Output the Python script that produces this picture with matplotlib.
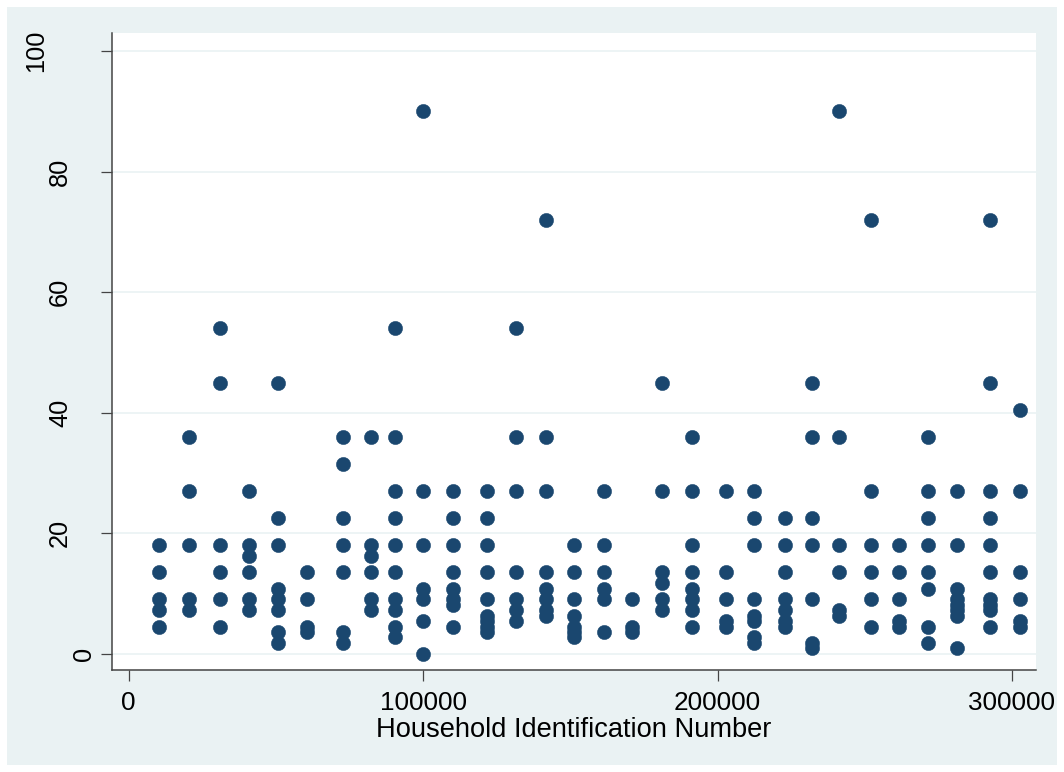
import matplotlib
matplotlib.use("Agg")
import matplotlib.pyplot as plt
from matplotlib.patches import Rectangle
import matplotlib.transforms as mtransforms

# household ids (x) and the values plotted for each one (y)
household_ids = [10300, 20500, 31000, 41000, 50800, 60500, 72900, 82300, 90400, 100100,
                 110200, 121600, 131600, 141600, 151300, 161400, 171100, 181300, 191500, 202800,
                 212500, 222800, 232000, 241300, 252100, 261500, 271600, 281400, 292500, 302700]

values_by_id = [
    [18, 13.5, 9, 7.2, 4.5],
    [36, 27, 18, 9, 7.2],
    [54, 45, 18, 13.5, 9, 4.5],
    [27, 18, 16.2, 13.5, 9, 7.2],
    [45, 22.5, 18, 10.8, 9, 7.2, 3.6, 1.8],
    [13.5, 9, 4.5, 3.6],
    [36, 31.5, 22.5, 18, 13.5, 3.6, 1.8],
    [36, 18, 16.2, 13.5, 9, 7.2],
    [54, 36, 27, 22.5, 18, 13.5, 9, 7.2, 4.5, 2.7],
    [90, 27, 18, 10.8, 9, 5.4, 0],
    [27, 22.5, 18, 13.5, 10.8, 9, 8.1, 4.5],
    [27, 22.5, 18, 13.5, 9, 6.3, 5.4, 4.5, 3.6],
    [54, 36, 27, 13.5, 9, 7.2, 5.4],
    [72, 36, 27, 13.5, 10.8, 9, 7.2, 6.3],
    [18, 13.5, 9, 6.3, 4.5, 3.6, 2.7],
    [27, 18, 13.5, 10.8, 9, 3.6],
    [9, 4.5, 3.6],
    [45, 27, 13.5, 11.7, 9, 7.2],
    [36, 27, 18, 13.5, 10.8, 9, 7.2, 4.5],
    [27, 13.5, 9, 5.4, 4.5],
    [27, 22.5, 18, 9, 6.3, 5.4, 2.7, 1.8],
    [22.5, 18, 13.5, 9, 7.2, 5.4, 4.5],
    [45, 36, 22.5, 18, 9, 1.8, 0.9],
    [90, 36, 18, 13.5, 7.2, 6.3],
    [72, 27, 18, 13.5, 9, 4.5],
    [18, 13.5, 9, 5.4, 4.5],
    [36, 27, 22.5, 18, 13.5, 10.8, 4.5, 1.8],
    [27, 18, 10.8, 9, 8.1, 7.2, 6.3, 0.9],
    [72, 45, 27, 22.5, 18, 13.5, 9, 8.1, 7.2, 4.5],
    [40.5, 27, 13.5, 9, 5.4, 4.5],
]

x_ticks = [0, 100000, 200000, 300000]
y_ticks = [0, 20, 40, 60, 80, 100]
x_label = "Household Identification Number"

xs = []
ys = []
for hid, vals in zip(household_ids, values_by_id):
    for v in vals:
        xs.append(hid)
        ys.append(v)

plt.rcParams['font.family'] = ['Liberation Sans', 'DejaVu Sans']

W, H = 1064, 772
fig = plt.figure(figsize=(W / 100, H / 100), dpi=100)
fig.patch.set_facecolor('white')
fig.patches.append(Rectangle((7 / W, 7 / H), (W - 14) / W, (H - 14) / H,
                             transform=fig.transFigure, facecolor='#EAF2F3',
                             edgecolor='none', zorder=-1))

ax = fig.add_axes([112 / W, (H - 670) / H, (1036 - 112) / W, (670 - 33) / H])
ax.set_facecolor('white')
ax.set_xlim(-5673, 308186)
ax.set_ylim(-2.705, 103.02)

ax.plot(xs, ys, 'o', color='#1A476F', ms=10.3, mec='#1A476F', mew=0.3, zorder=3, clip_on=False)

for s in ['top', 'right']:
    ax.spines[s].set_visible(False)
for s in ['left', 'bottom']:
    ax.spines[s].set_color('#444444')
    ax.spines[s].set_linewidth(1.1)

ax.set_xticks(x_ticks)
ax.set_xticklabels([str(t) for t in x_ticks])
ax.set_yticks(y_ticks)
ax.set_yticklabels([])
ax.tick_params(axis='both', direction='out', length=7.9, width=0.9, color='#444444')
ax.tick_params(axis='x', pad=7.5, labelsize=18.8)
ax.grid(axis='y', color='#EAF2F3', linewidth=1.2, zorder=0)
ax.set_axisbelow(True)

# stata pushes longer rotated labels further from the axis
for t in y_ticks:
    lab = str(t)
    off_px = 16 + 24 * (len(lab) - 1)
    tr = mtransforms.blended_transform_factory(ax.transAxes, ax.transData) + \
        mtransforms.ScaledTranslation(-off_px / 100, 0, fig.dpi_scale_trans)
    ax.text(0, t, lab, transform=tr, rotation=90, ha='right', va='center', fontsize=18.3)

ax.set_xlabel(x_label, fontsize=19.6, labelpad=1)

fig.savefig('out.png', dpi=100)
